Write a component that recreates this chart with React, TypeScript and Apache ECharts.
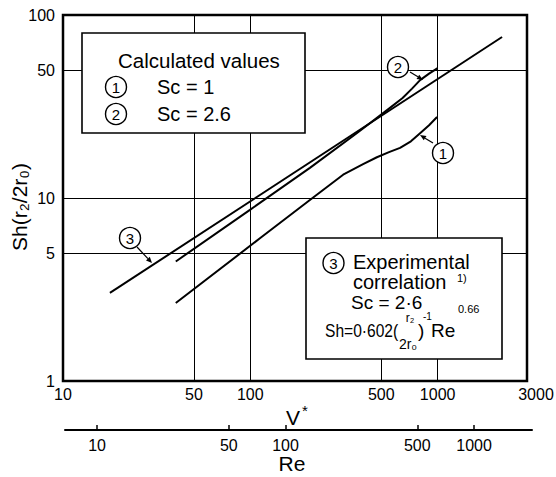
import React, { useEffect, useRef } from "react";
import * as echarts from "echarts";

// ---- data (real values, plotted on log10 scales) ----
const V_MIN = 10;
const V_MAX = 3000;
const SH_MIN = 1;
const SH_MAX = 100;
const RE_MIN = 6.76;
const RE_MAX = 2030;

const vTickLabels = [10, 50, 100, 500, 1000, 3000];
const vGridValues = [50, 100, 500, 1000];
const shTickLabels = [1, 5, 10, 50, 100];
const shGridValues = [5, 10, 50];
const reTickLabels = [10, 50, 100, 500, 1000];

// (1) calculated, Sc = 1
const line1V = [40, 113, 208, 313, 400, 474, 550, 630, 720, 806, 900, 993];
const line1Sh = [2.67, 6.04, 9.75, 13.4, 15.3, 16.7, 17.8, 18.8, 20.4, 22.6, 25.0, 27.7];
// (2) calculated, Sc = 2.6
const line2V = [40, 100, 208, 370, 550, 650, 730, 806, 900, 1000];
const line2Sh = [4.5, 8.64, 14.6, 22.6, 30.8, 35.2, 39.6, 44.1, 47.8, 51.3];
// (3) experimental correlation
const line3V = [17.8, 2208];
const line3Sh = [3.03, 75.8];

const L = (v: number) => Math.log10(v);
const FONT = '"Liberation Sans", Arial, Helvetica, sans-serif';
const fmt = (v: number) => String(Math.round(Math.pow(10, v)));
const fmtV = (v: number) => {
  const n = Math.round(Math.pow(10, v));
  return n === V_MAX ? `{r|${n}}` : String(n);
};

const toPts = (xs: number[], ys: number[]) => xs.map((x, i) => [L(x), L(ys[i])]);

function txt(text: string, x: number, y: number, size: number, align = "left", extra: any = {}) {
  return {
    type: "text",
    z: 20,
    x,
    y,
    ...extra,
    style: { text, font: `${size}px ${FONT}`, fill: "#000", align, verticalAlign: "middle" },
  };
}

function circ(cx: number, cy: number, digit: string) {
  return [
    { type: "circle", z: 20, shape: { cx, cy, r: 10.5 }, style: { fill: "#fff", stroke: "#000", lineWidth: 1.4 } },
    txt(digit, cx, cy + 0.5, 15, "center"),
  ];
}

function arrow(x0: number, y0: number, x1: number, y1: number) {
  const dx = x1 - x0;
  const dy = y1 - y0;
  const len = Math.sqrt(dx * dx + dy * dy);
  const ux = dx / len;
  const uy = dy / len;
  const hl = 6;
  const hw = 2.6;
  const bx = x1 - ux * hl;
  const by = y1 - uy * hl;
  return [
    { type: "line", z: 20, shape: { x1: x0, y1: y0, x2: bx, y2: by }, style: { stroke: "#000", lineWidth: 1.2 } },
    {
      type: "polygon",
      z: 20,
      shape: { points: [[x1, y1], [bx - uy * hw, by + ux * hw], [bx + uy * hw, by - ux * hw]] },
      style: { fill: "#000" },
    },
  ];
}

const lineSeries = (name: string, xs: number[], ys: number[]) => ({
  type: "line",
  name,
  xAxisIndex: 0,
  yAxisIndex: 0,
  data: toPts(xs, ys),
  showSymbol: false,
  smooth: false,
  lineStyle: { color: "#000", width: 2, join: "round" },
  z: 5,
});

const option: any = {
  animation: false,
  backgroundColor: "#fff",
  grid: [
    { left: 63, top: 15, width: 464, height: 366, show: true, borderColor: "#000", borderWidth: 2.5, backgroundColor: "transparent", outerBoundsMode: "none", containLabel: false },
    { left: 65, top: 429, width: 467, height: 1, show: false, outerBoundsMode: "none", containLabel: false },
  ],
  xAxis: [
    {
      type: "value",
      gridIndex: 0,
      min: L(V_MIN),
      max: L(V_MAX),
      axisLine: { show: false },
      axisTick: { show: false, customValues: vGridValues.map(L) },
      splitLine: { show: true, lineStyle: { color: "#000", width: 1 } },
      axisLabel: {
        customValues: vTickLabels.map(L),
        formatter: fmtV,
        color: "#000",
        fontFamily: FONT,
        fontSize: 16,
        margin: 5,
        rich: { r: { color: "#000", fontFamily: FONT, fontSize: 16, padding: [0, 0, 0, 18] } },
      },
    },
    {
      type: "value",
      gridIndex: 1,
      position: "bottom",
      min: L(RE_MIN),
      max: L(RE_MAX),
      axisLine: { show: true, onZero: false, lineStyle: { color: "#000", width: 2 } },
      axisTick: { show: true, inside: true, length: 5, lineStyle: { color: "#000", width: 1.5 }, customValues: reTickLabels.map(L) },
      splitLine: { show: false },
      axisLabel: {
        customValues: reTickLabels.map(L),
        formatter: fmt,
        color: "#000",
        fontFamily: FONT,
        fontSize: 16,
        margin: 7,
      },
    },
  ],
  yAxis: [
    {
      type: "value",
      gridIndex: 0,
      min: L(SH_MIN),
      max: L(SH_MAX),
      axisLine: { show: false },
      axisTick: { show: false, customValues: shGridValues.map(L) },
      splitLine: { show: true, lineStyle: { color: "#000", width: 1 } },
      axisLabel: {
        customValues: shTickLabels.map(L),
        formatter: fmt,
        color: "#000",
        fontFamily: FONT,
        fontSize: 16,
        margin: 8,
      },
    },
    { type: "value", gridIndex: 1, min: 0, max: 1, show: false },
  ],
  series: [
    lineSeries("Sc = 1", line1V, line1Sh),
    lineSeries("Sc = 2.6", line2V, line2Sh),
    lineSeries("Experimental correlation", line3V, line3Sh),
  ],
  graphic: {
    elements: [
      // legend box 1
      { type: "rect", z: 15, shape: { x: 82, y: 33, width: 223, height: 100 }, style: { fill: "#fff", stroke: "#000", lineWidth: 1.6 } },
      txt("Calculated values", 118, 60, 20.5),
      ...circ(116, 87, "1"),
      txt("Sc = 1", 157, 87, 20),
      ...circ(116, 114, "2"),
      txt("Sc = 2.6", 157, 114, 20),
      // legend box 2
      { type: "rect", z: 15, shape: { x: 306, y: 238, width: 196, height: 121 }, style: { fill: "#fff", stroke: "#000", lineWidth: 1.6 } },
      ...circ(333.5, 263, "3"),
      txt("Experimental", 353, 262, 20),
      txt("correlation", 353, 282, 20),
      txt("1)", 457, 278, 11),
      txt("Sc = 2·6", 351, 302, 19),
      txt("Sh=0·602(", 325, 330, 19, "left", { scaleX: 0.82 }),
      txt("r₂", 410, 318, 12, "center"),
      txt("2r₀", 408, 344, 14, "center"),
      txt(")", 418, 330, 19),
      txt("-1", 423, 316, 10),
      txt("Re", 431, 330, 19),
      txt("0.66", 458, 309, 11),
      // chart annotations
      ...circ(398, 67, "2"),
      ...arrow(410, 72, 423, 80),
      ...circ(443, 153, "1"),
      ...arrow(433, 143, 420, 135),
      ...circ(130, 238, "3"),
      ...arrow(137, 247, 152, 263),
      // axis titles
      txt("V", 293, 417, 21, "center"),
      txt("*", 302, 410, 15),
      txt("Re", 292, 463, 21, "center"),
      txt("Sh(r₂/2r₀)", 19, 207, 21, "center", { rotation: Math.PI / 2 }),
    ],
  },
};

export default function App() {
  const ref = useRef<HTMLDivElement>(null);
  useEffect(() => {
    if (!ref.current) return;
    const chart = echarts.init(ref.current, null, { renderer: "svg" });
    chart.setOption(option);
    return () => chart.dispose();
  }, []);
  return (
    <div
      ref={ref}
      style={{ position: "fixed", left: 0, top: 0, width: 556, height: 477, background: "#fff" }}
    />
  );
}
